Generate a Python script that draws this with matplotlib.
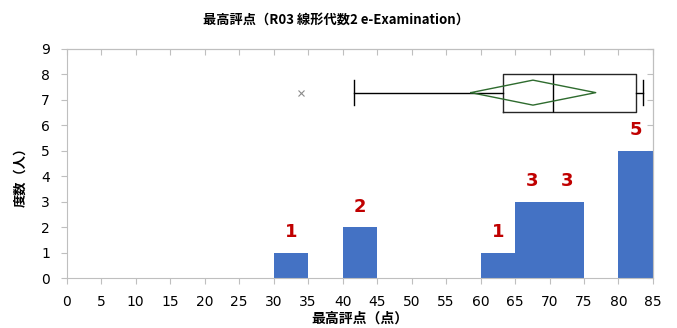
import matplotlib
matplotlib.use("Agg")
import matplotlib.pyplot as plt
import numpy as np

# Histogram data: left edge of each 5-point bin and its frequency
bin_left = [0, 5, 10, 15, 20, 25, 30, 35, 40, 45, 50, 55, 60, 65, 70, 75, 80]
counts = [0, 0, 0, 0, 0, 0, 1, 0, 2, 0, 0, 0, 1, 3, 3, 0, 5]
bin_width = 5

# Box-plot summary of the scores
box_q1 = 63.3
box_median = 70.5
box_q3 = 82.6
whisker_low = 41.6
whisker_high = 83.5
outliers = [34.0]
score_mean = 67.6
mean_ci = [58.6, 76.7]

x_ticks = list(range(0, 90, 5))
y_ticks = list(range(0, 10))

title_text = "最高評点（R03 線形代数2 e-Examination）"
x_label = "最高評点（点）"
y_label = "度数（人）"

cjk = ["Noto Sans CJK JP", "DejaVu Sans"]
plt.rcParams["font.family"] = cjk

fig = plt.figure(figsize=(6.77, 3.28), dpi=100)
ax = fig.add_axes([0.0985, 0.1524, 0.8660, 0.6997])

spine_color = "#BFBFBF"
bar_color = "#4472C4"
label_color = "#C00000"

ax.bar(bin_left, counts, width=bin_width, align="edge",
       color=bar_color, edgecolor=bar_color, linewidth=0.0, zorder=2)

for x0, c in zip(bin_left, counts):
    if c > 0:
        ax.text(x0 + bin_width / 2, c + 0.8, str(c), ha="center", va="center",
                color=label_color, fontsize=13, fontweight="bold",
                family=["DejaVu Sans"], zorder=4)

# Box plot drawn horizontally above the histogram
box_y = 7.27
stats = [dict(med=box_median, q1=box_q1, q3=box_q3,
              whislo=whisker_low, whishi=whisker_high, fliers=outliers)]
ax.bxp(stats, positions=[box_y], widths=1.5, vert=False, manage_ticks=False,
       capwidths=1.0, showfliers=True,
       boxprops=dict(color="#262626", linewidth=1.0),
       medianprops=dict(color="black", linewidth=1.0),
       whiskerprops=dict(color="black", linewidth=1.0),
       capprops=dict(color="black", linewidth=1.0),
       flierprops=dict(marker="x", markeredgecolor="#8C8C8C",
                       markersize=5, markeredgewidth=0.8))

# Mean with confidence diamond
dh = 0.49
ax.plot([mean_ci[0], score_mean, mean_ci[1], score_mean, mean_ci[0]],
        [box_y, box_y + dh, box_y, box_y - dh, box_y],
        color="#2E6B2E", linewidth=1.0, zorder=5)

ax.set_xlim(0, 85)
ax.set_ylim(0, 9)
ax.set_xticks(x_ticks)
ax.set_yticks(y_ticks)
ax.set_xticklabels([str(v) for v in x_ticks], family=["DejaVu Sans"], fontsize=10)
ax.set_yticklabels([str(v) for v in y_ticks], family=["DejaVu Sans"], fontsize=10)

for s in ax.spines.values():
    s.set_color(spine_color)
    s.set_linewidth(0.8)

ax.tick_params(axis="x", direction="out", length=4, color=spine_color, pad=8,
               labelcolor="black")
ax.tick_params(axis="y", direction="out", length=4, color=spine_color, pad=8,
               labelcolor="black")

top = ax.secondary_xaxis("top")
top.set_xticks(x_ticks)
top.tick_params(direction="in", length=4, color=spine_color, labeltop=False)
top.spines["top"].set_color(spine_color)

right = ax.secondary_yaxis("right")
right.set_yticks(y_ticks)
right.tick_params(direction="in", length=4, color=spine_color, labelright=False)
right.spines["right"].set_color(spine_color)

ax.set_xlabel(x_label, fontsize=10, fontweight="bold", labelpad=2)
fig.text(0.03, 0.47, y_label, rotation=90, ha="center", va="center",
         fontsize=9.5, fontweight="bold")
fig.text(0.497, 0.94, title_text, ha="center", va="center",
         fontsize=9.5, fontweight="bold")

fig.savefig("out.png", dpi=100)
